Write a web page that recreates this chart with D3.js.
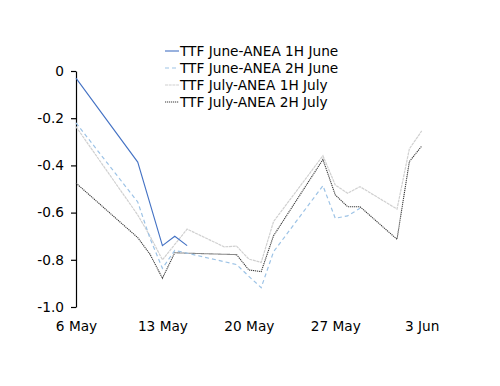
<!DOCTYPE html>
<html>
<head>
<meta charset="utf-8">
<script src="https://cdn.jsdelivr.net/npm/d3@7"></script>
<style>
  body { margin: 0; background: #fff; }
  svg { display: block; }
  text { font-family: "DejaVu Sans", Verdana, sans-serif; fill: #000; }
</style>
</head>
<body>
<svg id="chart" width="500" height="386"></svg>
<script>
// ---- Data ----
const seriesNames = [
  "TTF June-ANEA 1H June",
  "TTF June-ANEA 2H June",
  "TTF July-ANEA 1H July",
  "TTF July-ANEA 2H July"
];
const juneH1Dates = ["2019-05-06", "2019-05-11", "2019-05-13", "2019-05-14", "2019-05-15"];
const juneH1Values = [-0.03, -0.386, -0.74, -0.70, -0.74];

const juneH2Dates = ["2019-05-06", "2019-05-11", "2019-05-12", "2019-05-13", "2019-05-14", "2019-05-19", "2019-05-20", "2019-05-21", "2019-05-22", "2019-05-26", "2019-05-27", "2019-05-28", "2019-05-29"];
const juneH2Values = [-0.22, -0.555, -0.71, -0.836, -0.76, -0.82, -0.87, -0.918, -0.766, -0.486, -0.624, -0.614, -0.582];

const julyH1Dates = ["2019-05-06", "2019-05-11", "2019-05-12", "2019-05-13", "2019-05-15", "2019-05-18", "2019-05-19", "2019-05-20", "2019-05-21", "2019-05-22", "2019-05-26", "2019-05-27", "2019-05-28", "2019-05-29", "2019-06-01", "2019-06-02", "2019-06-03"];
const julyH1Values = [-0.236, -0.61, -0.70, -0.80, -0.67, -0.745, -0.742, -0.797, -0.811, -0.638, -0.359, -0.483, -0.518, -0.49, -0.585, -0.33, -0.254];

const julyH2Dates = ["2019-05-06", "2019-05-11", "2019-05-12", "2019-05-13", "2019-05-14", "2019-05-15", "2019-05-19", "2019-05-20", "2019-05-21", "2019-05-22", "2019-05-26", "2019-05-27", "2019-05-28", "2019-05-29", "2019-06-01", "2019-06-02", "2019-06-03"];
const julyH2Values = [-0.475, -0.706, -0.777, -0.878, -0.77, -0.772, -0.778, -0.843, -0.85, -0.698, -0.375, -0.525, -0.575, -0.575, -0.713, -0.384, -0.318];

const yTickValues = [0, -0.2, -0.4, -0.6, -0.8, -1.0];
const yTickLabels = ["0", "-0.2", "-0.4", "-0.6", "-0.8", "-1.0"];
const xTickDates = ["2019-05-06", "2019-05-13", "2019-05-20", "2019-05-27", "2019-06-03"];
const xTickLabels = ["6 May", "13 May", "20 May", "27 May", "3 Jun"];

// ---- Setup ----
const svg = d3.select("#chart");
const parse = d3.utcParse("%Y-%m-%d");

const x = d3.scaleUtc()
  .domain([parse("2019-05-06"), parse("2019-06-03")])
  .range([76, 421.7]);
const y = d3.scaleLinear().domain([-1, 0]).range([307, 71]);

const styles = [
  { stroke: "#4472C4", dash: null, width: 1.1 },
  { stroke: "#9DC3E6", dash: "4,3", width: 1.2 },
  { stroke: "#D0D0D0", dash: "3,0.7", width: 1.2 },
  { stroke: "#3A3A3A", dash: "1.2,0.8", width: 1.1 }
];

const allSeries = [
  { dates: juneH1Dates, values: juneH1Values },
  { dates: juneH2Dates, values: juneH2Values },
  { dates: julyH1Dates, values: julyH1Values },
  { dates: julyH2Dates, values: julyH2Values }
];

// ---- Y axis ----
const yAxis = d3.axisLeft(y)
  .tickValues(yTickValues)
  .tickFormat((d, i) => yTickLabels[i])
  .tickSizeInner(5)
  .tickSizeOuter(0)
  .tickPadding(7);
const gy = svg.append("g").attr("transform", "translate(76,0)").call(yAxis);
gy.select(".domain").attr("stroke", "#000").attr("stroke-width", 1.2);
gy.selectAll(".tick line").attr("stroke", "#000").attr("stroke-width", 1.2);
gy.selectAll(".tick text").style("font-size", "13.7px").attr("fill", "#000");

// ---- X axis (labels only) ----
const xAxis = d3.axisBottom(x)
  .tickValues(xTickDates.map(parse))
  .tickFormat((d, i) => xTickLabels[i])
  .tickSize(0)
  .tickPadding(14);
const gx = svg.append("g").attr("transform", "translate(0,307)").call(xAxis);
gx.select(".domain").remove();
gx.selectAll(".tick text").style("font-size", "13.7px").attr("fill", "#000");

// ---- Lines (draw back to front) ----
const line = d3.line().x(d => x(d.date)).y(d => y(d.value));
[3, 2, 1, 0].forEach(i => {
  const s = allSeries[i];
  const data = s.dates.map((d, j) => ({ date: parse(d), value: s.values[j] }));
  svg.append("path")
    .datum(data)
    .attr("fill", "none")
    .attr("stroke", styles[i].stroke)
    .attr("stroke-width", styles[i].width)
    .attr("stroke-dasharray", styles[i].dash)
    .attr("d", line);
});

// ---- Legend ----
const legend = svg.append("g").attr("transform", "translate(165,51)");
seriesNames.forEach((name, i) => {
  const g = legend.append("g").attr("transform", `translate(0,${i * 17})`);
  g.append("line")
    .attr("x1", 0).attr("x2", 14).attr("y1", 0).attr("y2", 0)
    .attr("stroke", styles[i].stroke)
    .attr("stroke-width", styles[i].width)
    .attr("stroke-dasharray", styles[i].dash);
  g.append("text")
    .attr("x", 15).attr("y", 0).attr("dy", "0.35em")
    .style("font-size", "13.7px")
    .text(name);
});
</script>
</body>
</html>
